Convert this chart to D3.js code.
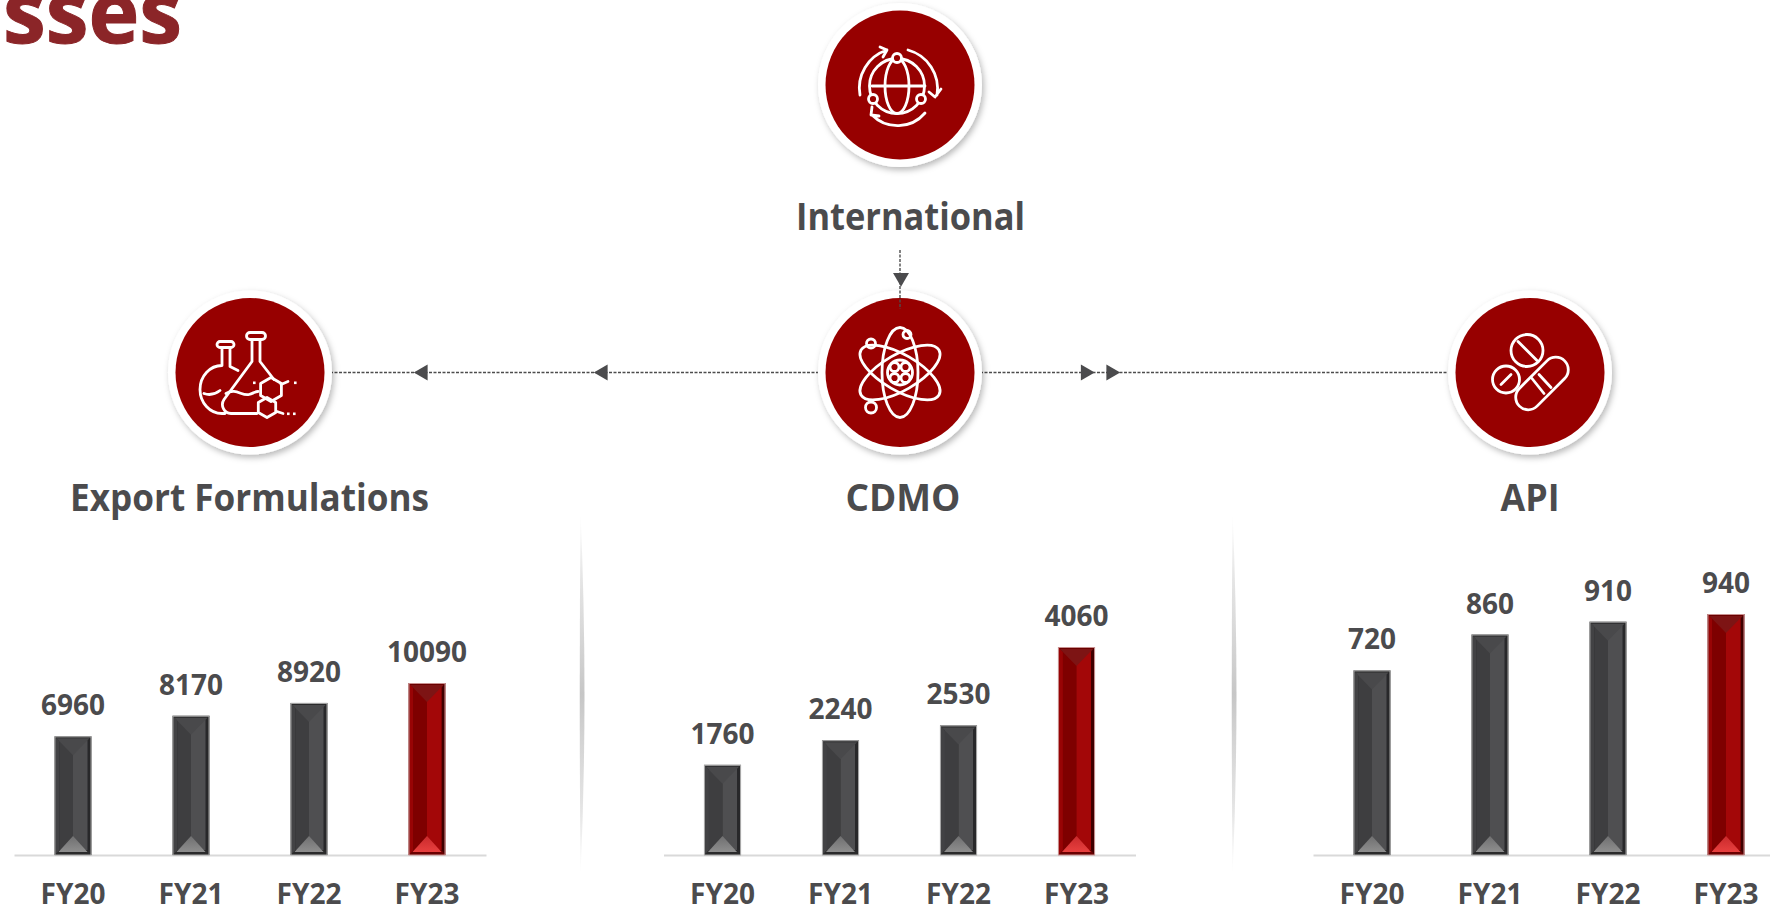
<!DOCTYPE html>
<html><head><meta charset="utf-8">
<script src="https://cdn.jsdelivr.net/npm/d3@7"></script>
<style>html,body{margin:0;padding:0;background:#fff;overflow:hidden}svg{display:block}
text{font-family:"Open Sans",sans-serif;font-weight:700}</style></head><body>
<svg id="c" width="1770" height="911"></svg>
<script>
// ---- data ----
const categories = ["FY20","FY21","FY22","FY23"];
const exportValues = [6960,8170,8920,10090];
const cdmoValues = [1760,2240,2530,4060];
const apiValues = [720,860,910,940];
const panelNames = ["Export Formulations","CDMO","API"];
const panelTitle = "International";
const headingFragment = "sses";

const svg = d3.select("#c");
const defs = svg.append("defs");
const INK = "#4b4b4d", RED = "#970000";

// ---- gradients / filters ----
function lin(id, stops, x2=1, y2=0){
  const g = defs.append("linearGradient").attr("id",id).attr("x1",0).attr("y1",0).attr("x2",x2).attr("y2",y2);
  stops.forEach(s=>g.append("stop").attr("offset",s[0]).attr("stop-color",s[1]).attr("stop-opacity",s[2]===undefined?1:s[2]));
}
lin("gTriDark",[[0,"#6f6f70"],[1,"#8e8e8e"]],0,1);
lin("gTriRed",[[0,"#c92a2c"],[1,"#e8403f"]],0,1);
lin("gDiv",[[0,"#c4c4c4",0],[.18,"#c4c4c4",.55],[.5,"#b8b8b8",1],[.82,"#c4c4c4",.55],[1,"#c4c4c4",0]],0,1);
const f = defs.append("filter").attr("id","sh").attr("x","-20%").attr("y","-20%").attr("width","145%").attr("height","145%");
f.append("feDropShadow").attr("dx",2).attr("dy",3).attr("stdDeviation",3).attr("flood-color","#000").attr("flood-opacity",.28);

// ---- cropped heading ----
svg.append("text").attr("x",3).attr("y",43).attr("font-size",86).attr("fill","#8b2528")
   .attr("stroke","#8b2528").attr("stroke-width",1).text(headingFragment);

// ---- dividers ----
[580.5,1232.5].forEach(x=>{
  svg.append("path").attr("d",`M${x},512 Q${x-1.5},695 ${x},876 Q${x+8},695 ${x},512Z`).attr("fill","url(#gDiv)").attr("opacity",.8);
});

// ---- connectors ----
const dash = {stroke:"#4d4d4d",w:1.4,d:"3 1.5"};
const conn = svg.append("g").attr("stroke",dash.stroke).attr("stroke-width",dash.w).attr("stroke-dasharray",dash.d).attr("fill","none");
conn.append("line").attr("x1",330).attr("x2",820).attr("y1",372.5).attr("y2",372.5);
conn.append("line").attr("x1",980).attr("x2",1452).attr("y1",372.5).attr("y2",372.5);
const heads = svg.append("g").attr("fill",INK);

// ---- node circles and icons ----
const ic = {stroke:"#fff","stroke-width":2.8,fill:"none","stroke-linecap":"round","stroke-linejoin":"round"};
function node(cx,cy,draw){
  svg.append("circle").attr("cx",cx).attr("cy",cy).attr("r",82).attr("fill","#fff").attr("filter","url(#sh)");
  svg.append("circle").attr("cx",cx).attr("cy",cy).attr("r",74.5).attr("fill",RED);
  const g = svg.append("g").attr("transform",`translate(${cx},${cy})`);
  Object.entries(ic).forEach(([k,v])=>g.attr(k,v));
  draw(g);
}
const P=(g,d)=>g.append("path").attr("d",d);
const C=(g,x,y,r)=>g.append("circle").attr("cx",x).attr("cy",y).attr("r",r);
const hex=(x,y,r)=>d3.range(6).map(i=>{const a=Math.PI/3*i+Math.PI/6;return (i?"L":"M")+(x+r*Math.cos(a)).toFixed(1)+","+(y+r*Math.sin(a)).toFixed(1)}).join("")+"Z";

node(900,85,g=>{
  C(g,-3,1,27.5);
  g.append("ellipse").attr("cx",-3).attr("cy",1).attr("rx",12).attr("ry",27.5);
  P(g,"M-28,1H25");
  [[-3,-27],[-27,14],[21,14]].forEach(p=>C(g,p[0],p[1],4.5).attr("fill",RED));
  P(g,"M-40,10A40,40 0 0 1 -13,-35M-20,-38L-13,-35L-17,-28");
  P(g,"M8,-35A40,40 0 0 1 37,10M29,7L35,12L41,4");
  P(g,"M25,28A36,36 0 0 1 -28,30M-28,22L-29,30L-21,31");
});
node(900,372.5,g=>{
  [0,60,-60].forEach(a=>g.append("ellipse").attr("rx",18).attr("ry",45).attr("transform",`rotate(${a})`));
  C(g,0,0,12.5);
  [[-5.5,-5.5],[5.5,-5.5],[-5.5,5.5],[5.5,5.5]].forEach(p=>C(g,p[0],p[1],4.5));
  C(g,-29,-29,4.5);C(g,7,-38,4);C(g,-29,35,5.5);
});
node(250,372.5,g=>{
  P(g,"M-30,-31H-19A3,3 0 0 1 -19,-25H-30A3,3 0 0 1 -30,-31Z");
  P(g,"M-28,-25V-7A22,24 0 0 0 -28,41H-25M-20,-25V-6L-12,-2");
  P(g,"M0,-40H12A3.5,3.5 0 0 1 12,-33H0A3.5,3.5 0 0 1 0,-40Z");
  P(g,"M2,-33V-11L-26,27A9,9 0 0 0 -19,41H7M10,-33V-11L24,7");
  P(g,"M-46,21Q-38,24 -30,18M-24,21C-14,15 -8,24 -1,22C3,21 5,19 8,19");
  P(g,hex(21,17,12));P(g,hex(17,35,10));
  P(g,"M31,12L38,9M27,39L33,41");
  g.append("g").attr("fill","#fff").attr("stroke","none").selectAll("rect").data([[44,9],[37,40],[43,40],[3,9]]).join("rect").attr("x",d=>d[0]).attr("y",d=>d[1]).attr("width",2.6).attr("height",2.6);
});
node(1530,372.5,g=>{
  C(g,-3,-22,16);P(g,"M-12,-31L7,-12");
  C(g,-24,7,13.5);P(g,"M-29,12L-19,2");
  g.append("rect").attr("x",-20).attr("y",-1.5).attr("width",64).attr("height",25).attr("rx",12.5).attr("transform","rotate(-45 12 11)");
  P(g,"M2,6L14,21M9,2L21,15");
});

// ---- arrow heads ----
const tri = d3.symbol().type(d3.symbolTriangle).size(110);
[[423,372.5,-90],[603,372.5,-90],[1085.5,372.5,90],[1111,372.5,90],[901,277.5,180]].forEach(a=>
  heads.append("path").attr("d",tri()).attr("transform",`translate(${a[0]},${a[1]}) rotate(${a[2]})`));
svg.append("line").attr("x1",900).attr("x2",900).attr("y1",250).attr("y2",309)
   .attr("stroke",dash.stroke).attr("stroke-width",dash.w).attr("stroke-dasharray",dash.d);

// ---- titles ----
const tLen = {"Export Formulations":359,"CDMO":115,"API":59,"International":229};
function title(s,x,y){
  svg.append("text").attr("x",x).attr("y",y).attr("text-anchor","middle").attr("font-size",37).attr("fill",INK)
    .attr("textLength",tLen[s]).attr("lengthAdjust","spacingAndGlyphs").text(s);
}
title(panelTitle,910.5,230);
title(panelNames[0],249.5,511);
title(panelNames[1],903,511);
title(panelNames[2],1530,511);

// ---- bar panels ----
const baseY = 855;
const panels = [
  {vals:exportValues,range:[14,486],domainMax:10090,h:172},
  {vals:cdmoValues,range:[663.5,1135.5],domainMax:4060,h:208},
  {vals:apiValues,range:[1313,1785],domainMax:940,h:241}
];
const pal = {
  dark:{edge:"#a9a9a9",outer:"#2a2a2b",left:"#3e3e40",right:"#4f4f51",bevL:"#424244",bevR:"#28282a",top:"#49494b",bot:"url(#gTriDark)"},
  red:{edge:"#c9908f",outer:"#6a0000",left:"#7e0000",right:"#a30708",bevL:"#980405",bevR:"#3f0000",top:"#7d1414",bot:"url(#gTriRed)"}
};
panels.forEach(p=>{
  const x = d3.scaleBand().domain(categories).range(p.range).paddingInner(.686).paddingOuter(.343);
  const y = d3.scaleLinear().domain([0,p.domainMax]).range([baseY,baseY-p.h]);
  const ax = svg.append("g").attr("transform",`translate(0,${baseY})`)
    .call(d3.axisBottom(x).tickSize(0).tickPadding(29));
  ax.select(".domain").attr("stroke","#d9d9d9").attr("stroke-width",2);
  ax.selectAll("text").attr("font-size",28).attr("font-family",'"Open Sans",sans-serif').attr("font-weight",700).attr("fill",INK);

  categories.forEach((c,i)=>{
    const v=p.vals[i], w=x.bandwidth(), H=baseY-y(v), col=i===3?pal.red:pal.dark, b=5;
    const g=svg.append("g").attr("transform",`translate(${x(c)},${y(v)})`);
    const poly=(pts,fill)=>g.append("polygon").attr("points",pts.map(q=>q.join(",")).join(" ")).attr("fill",fill);
    g.append("rect").attr("width",w).attr("height",H).attr("fill",col.outer);
    poly([[1,1],[b,b],[b,H-b],[1,H-1]],col.bevL);
    poly([[w-1,1],[w-b+1,b],[w-b+1,H-b],[w-1,H-1]],col.bevR);
    g.append("rect").attr("x",b).attr("y",b-1).attr("width",w/2-b).attr("height",H-2*b+1).attr("fill",col.left);
    g.append("rect").attr("x",w/2).attr("y",b-1).attr("width",w/2-b+1).attr("height",H-2*b+1).attr("fill",col.right);
    poly([[2,2],[w-2,2],[w/2,Math.min(19,H/2)]],col.top);
    poly([[4,H-3],[w-4,H-3],[w/2,H-19]],col.bot);
    g.append("rect").attr("x",.5).attr("y",.5).attr("width",w-1).attr("height",H-.5).attr("fill","none").attr("stroke",col.edge).attr("stroke-width",1);
    svg.append("text").attr("x",x(c)+w/2).attr("y",y(v)-21).attr("text-anchor","middle").attr("font-size",28).attr("fill",INK).text(v);
  });
});
</script></body></html>
